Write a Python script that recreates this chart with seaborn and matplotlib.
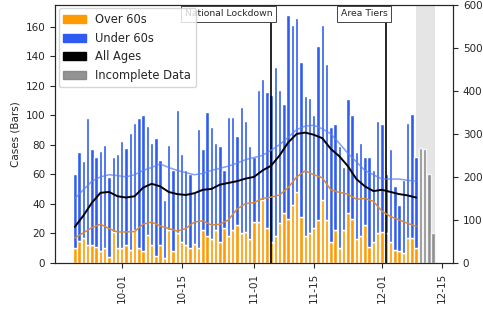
import pandas as pd
import matplotlib
matplotlib.use('Agg')
import matplotlib.pyplot as plt
import matplotlib.dates as mdates
import matplotlib.patches as mpatches
import seaborn as sns

sns.set_style('ticks')
plt.rcParams['font.family'] = ['DejaVu Sans']

# daily cases, 20 Sep 2020 onwards
start_date = '2020-09-20'
total_cases = [60, 75, 69, 98, 77, 72, 76, 80, 58, 72, 74, 83, 78,
               88, 95, 98, 100, 93, 81, 85, 70, 43, 80, 63, 104, 74,
               63, 60, 48, 91, 77, 102, 92, 81, 79, 63, 99, 99, 86, 106, 96, 79, 72,
               117, 125, 116, 114, 133, 117, 108, 168, 161, 166, 136, 113,
               112, 100, 147, 161, 135, 92, 94, 79, 65, 111, 100, 75, 81, 72,
               72, 63, 96, 94, 60, 77, 52, 39, 56, 95, 101, 72]
over60_cases = [10, 15, 17, 12, 12, 11, 8, 10, 4, 21, 10, 10, 12,
                9, 22, 10, 8, 19, 12, 5, 12, 3, 22, 8, 20, 14,
                12, 10, 13, 10, 22, 18, 16, 22, 14, 24, 18, 22, 26, 20, 21, 16, 28,
                28, 43, 24, 14, 18, 27, 34, 30, 39, 48, 31, 18,
                20, 24, 29, 43, 29, 14, 22, 10, 22, 34, 30, 16, 18, 26,
                11, 14, 20, 21, 20, 14, 9, 8, 7, 17, 17, 10]

# incomplete days at the end
incomplete_start = '2020-12-10'
incomplete_cases = [78, 77, 60, 20]

# rolling lines (right axis), one reading every 2 days
line_start = '2020-09-20'
all_ages_line = [84, 110, 140, 163, 165, 155, 152, 155, 175, 184, 178, 165, 160, 158,
                 162, 170, 172, 182, 186, 190, 196, 200, 215, 226, 250, 280, 300, 303,
                 298, 290, 265, 248, 225, 195, 178, 167, 170, 165, 160, 157, 152]
over60_line = [58, 70, 82, 90, 80, 72, 72, 73, 90, 95, 86, 80, 74, 80,
               95, 98, 88, 90, 100, 125, 138, 140, 150, 153, 158, 175, 200, 214,
               205, 198, 170, 164, 160, 148, 150, 143, 120, 108, 100, 92, 85]
under60_line = [150, 170, 190, 200, 205, 203, 200, 205, 215, 222, 230, 222, 215, 210,
                205, 208, 215, 220, 225, 232, 240, 245, 250, 262, 275, 292, 310, 318,
                320, 312, 300, 278, 255, 235, 215, 205, 195, 195, 195, 192, 190]

events = ['National Lockdown', 'Area Tiers']
event_dates = ['2020-11-05', '2020-12-02']

dates = pd.date_range(start_date, periods=len(total_cases), freq='D')
under60_cases = [t - o for t, o in zip(total_cases, over60_cases)]
inc_dates = pd.date_range(incomplete_start, periods=len(incomplete_cases), freq='D')
line_dates = pd.date_range(line_start, periods=len(all_ages_line), freq='2D')

c_orange = '#ff9a00'
c_blue = '#2f5cf0'
c_grey = '#808080'

fig = plt.figure(figsize=(4.83, 3.23), dpi=100)
ax = fig.add_axes([0.114, 0.186, 0.824, 0.799])

ax.bar(dates, over60_cases, width=0.8, color=c_orange)
ax.bar(dates, under60_cases, bottom=over60_cases, width=0.8, color=c_blue)
ax.bar(inc_dates, incomplete_cases, width=0.8, color=c_grey, alpha=0.85)
ax.axvspan(pd.Timestamp('2020-12-09'), pd.Timestamp('2020-12-13 10:00'),
           color='#d0d0d0', alpha=0.55, zorder=0, lw=0)
ax.set_ylim(0, 175)
ax.set_ylabel('Cases (Bars)', fontsize=7.5)

for ev, d in zip(events, event_dates):
    ax.axvline(pd.Timestamp(d), color='black', lw=1.2, zorder=5)
    ax.text(pd.Timestamp(d) + pd.Timedelta(hours=8), 172, ev, ha='right', va='top', fontsize=6.7,
            bbox=dict(facecolor='white', edgecolor='#444444', lw=0.7, pad=2.5), zorder=6)

ax2 = ax.twinx()
sns.lineplot(x=line_dates, y=under60_line, ax=ax2, color='#5a7ff0', lw=1.1, alpha=0.75)
sns.lineplot(x=line_dates, y=over60_line, ax=ax2, color='#d98a2c', lw=1.1)
sns.lineplot(x=line_dates, y=all_ages_line, ax=ax2, color='black', lw=1.4)
ax2.set_ylim(0, 600)
ax2.set_ylabel('')

ax.set_xticks(pd.to_datetime(['2020-10-01', '2020-10-15', '2020-11-01',
                              '2020-11-15', '2020-12-01', '2020-12-15']))
ax.xaxis.set_major_formatter(mdates.DateFormatter('%m-%d'))
ax.tick_params(axis='x', rotation=90, labelsize=7.5)
ax.tick_params(axis='y', labelsize=7.5)
ax2.tick_params(axis='y', labelsize=7.5)

handles = [mpatches.Patch(color=c_orange, label='Over 60s'),
           mpatches.Patch(color=c_blue, label='Under 60s'),
           mpatches.Patch(color='black', label='All Ages'),
           mpatches.Patch(color=c_grey, alpha=0.85, label='Incomplete Data')]
leg = ax2.legend(handles=handles, loc='upper left', fontsize=8.3, borderaxespad=0.3)
leg.set_zorder(10)

fig.savefig('out.png', dpi=100)
